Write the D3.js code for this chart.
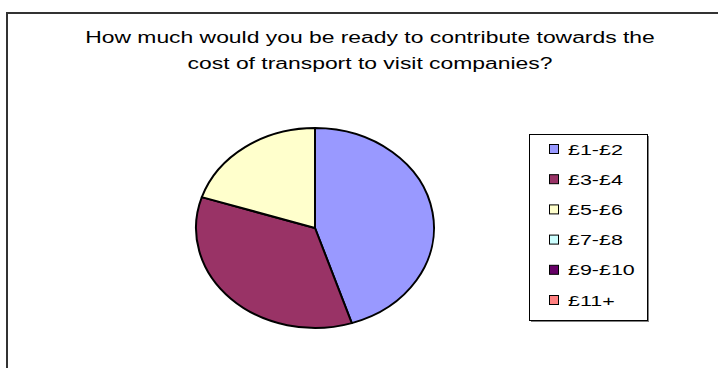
<!DOCTYPE html>
<html>
<head>
<meta charset="utf-8">
<script src="https://cdn.jsdelivr.net/npm/d3@7"></script>
<style>
  body { margin: 0; background: #fff; }
  text { font-family: "Liberation Sans", Arial, sans-serif; fill: #000; }
</style>
</head>
<body>
<script>
var svgWidth = 718;
var svgHeight = 368;

// data
var categories = ["£1-£2", "£3-£4", "£5-£6", "£7-£8", "£9-£10", "£11+"];
var counts = [9, 7, 4, 0, 0, 0];
var colors = ["#9999FF", "#993366", "#FFFFCC", "#CCFFFF", "#660066", "#FF8080"];
var titleLines = ["How much would you be ready to contribute towards the",
                  "cost of transport to visit companies?"];

var textStretch = 1.43;

var svg = d3.select("body")
            .append("svg")
            .attr("width", svgWidth)
            .attr("height", svgHeight);

// chart area frame (right and bottom edges run off the picture)
svg.append("rect")
   .attr("x", 7)
   .attr("y", 13)
   .attr("width", 760)
   .attr("height", 400)
   .attr("fill", "#fff")
   .attr("stroke", "#333")
   .attr("stroke-width", 2);

// title
var titleGroup = svg.append("g")
                    .attr("transform", `translate(370, 0) scale(${textStretch}, 1)`);
titleGroup.selectAll("text")
          .data(titleLines)
          .enter()
          .append("text")
          .attr("x", 0)
          .attr("y", (d, i) => 43 + i * 26)
          .attr("text-anchor", "middle")
          .style("font-size", "16px")
          .text(d => d);

// pie
var pieCenter = {x: 315, y: 228};
var radiusY = 100;
var radiusX = 119;

var pie = d3.pie()
            .sort(null)
            .value(d => d.value);

var arc = d3.arc()
            .innerRadius(0)
            .outerRadius(radiusY);

var pieData = categories.map((c, i) => ({name: c, value: counts[i], color: colors[i]}));

var pieGroup = svg.append("g")
                  .attr("transform", `translate(${pieCenter.x}, ${pieCenter.y}) scale(${radiusX / radiusY}, 1)`);

pieGroup.selectAll("path")
        .data(pie(pieData).filter(d => d.data.value > 0))
        .enter()
        .append("path")
        .attr("d", arc)
        .attr("fill", d => d.data.color)
        .attr("stroke", "#000")
        .attr("stroke-width", 2)
        .attr("stroke-linejoin", "round")
        .attr("vector-effect", "non-scaling-stroke");

// legend
var legendBox = {x: 529, y: 134, width: 118, height: 186};

svg.append("rect")
   .attr("x", legendBox.x + 2)
   .attr("y", legendBox.y + 2)
   .attr("width", legendBox.width)
   .attr("height", legendBox.height)
   .attr("fill", "#808080");

svg.append("rect")
   .attr("x", legendBox.x)
   .attr("y", legendBox.y)
   .attr("width", legendBox.width)
   .attr("height", legendBox.height)
   .attr("fill", "#fff")
   .attr("stroke", "#000")
   .attr("stroke-width", 1)
   .attr("shape-rendering", "crispEdges");

var legendY = d3.scalePoint()
                .domain(categories)
                .range([149, 300]);

var legendItems = svg.append("g")
                     .selectAll("g")
                     .data(pieData)
                     .enter()
                     .append("g")
                     .attr("transform", d => `translate(549, ${legendY(d.name)})`);

legendItems.append("rect")
           .attr("x", 0.5)
           .attr("y", -4.5)
           .attr("width", 9)
           .attr("height", 9)
           .attr("fill", d => d.color)
           .attr("stroke", "#000")
           .attr("stroke-width", 1);

legendItems.append("text")
           .attr("transform", `translate(19, 5.5) scale(${textStretch}, 1)`)
           .style("font-size", "15px")
           .text(d => d.name);
</script>
</body>
</html>
